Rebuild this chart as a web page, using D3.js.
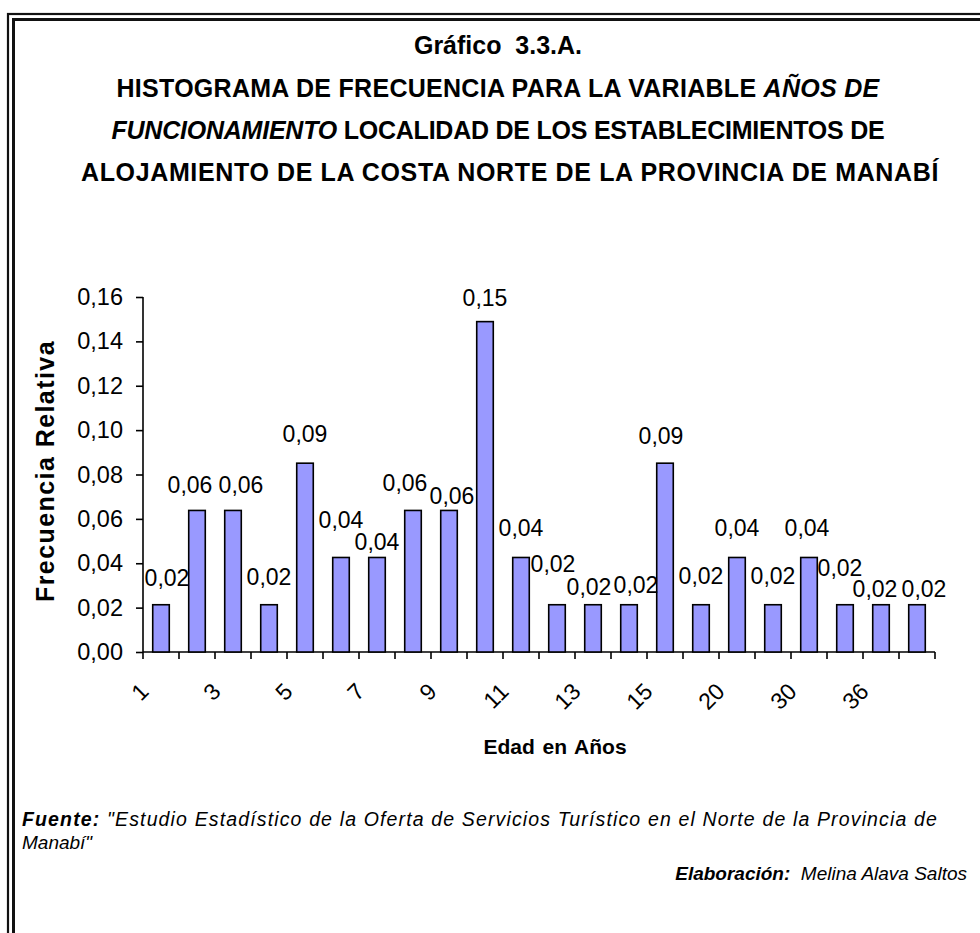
<!DOCTYPE html>
<html>
<head>
<meta charset="utf-8">
<script src="https://cdn.jsdelivr.net/npm/d3@7"></script>
<style>
  body { margin: 0; background: #fff; }
  svg { display: block; font-family: "Liberation Sans", Arial, sans-serif; }
</style>
</head>
<body>
<svg id="chart" width="980" height="933"></svg>
<script>
// categories (age in years) - only every other one is labelled on the axis
var ages = ['1','2','3','4','5','6','7','8','9','10','11','12','13','14','15','18','20','25','30','35','36','40'];
// relative frequency for each age
var freq = [0.0213, 0.0638, 0.0638, 0.0213, 0.0851, 0.0426, 0.0426, 0.0638, 0.0638, 0.1489, 0.0426,
            0.0213, 0.0213, 0.0213, 0.0851, 0.0213, 0.0426, 0.0213, 0.0426, 0.0213, 0.0213, 0.0213];
var yTicks = [0, 0.02, 0.04, 0.06, 0.08, 0.10, 0.12, 0.14, 0.16];

// excel shoved some value labels around to avoid overlaps (pixel nudges, [dx, dy])
var labelNudge = [[6,0],[-7,2],[8,2],[0,-1],[0,-2],[0,-10],[0,12],[-8,0],[3,13],[0,3],[0,-2],
                  [-4,-14],[-4,9],[7,7],[-4,0],[0,-2],[0,-2],[0,-2],[-2,-2],[-5,-10],[-6,11],[7,11]];

var svg = d3.select('#chart');
var comma = function(v) { return d3.format('.2f')(v).replace('.', ','); };

// spread the letters a bit so a line fills the same width as in the original
var fitWidth = function(sel, target) {
  var node = sel.node();
  var natural = node.getComputedTextLength();
  var n = node.textContent.length;
  sel.attr('letter-spacing', (target - natural) / n);
};

// double frame, open on the right and bottom (cut off in the original)
svg.append('rect').attr('x', 8).attr('y', 14).attr('width', 1000).attr('height', 1000)
  .attr('fill', 'none').attr('stroke', '#111').attr('stroke-width', 2.2);
svg.append('rect').attr('x', 13.5).attr('y', 19.5).attr('width', 1000).attr('height', 1000)
  .attr('fill', 'none').attr('stroke', '#111').attr('stroke-width', 3);

// titles
var tx = 498;
svg.append('text').attr('x', tx).attr('y', 54).attr('text-anchor', 'middle')
  .attr('font-size', 25).attr('font-weight', 'bold').attr('xml:space', 'preserve').text('Gráfico  3.3.A.');

var t2 = svg.append('text').attr('x', tx).attr('y', 97).attr('text-anchor', 'middle')
  .attr('font-size', 25).attr('font-weight', 'bold');
t2.append('tspan').text('HISTOGRAMA DE FRECUENCIA PARA LA VARIABLE ');
t2.append('tspan').attr('font-style', 'italic').text('AÑOS DE');
fitWidth(t2, 763);

var t3 = svg.append('text').attr('x', tx).attr('y', 139).attr('text-anchor', 'middle')
  .attr('font-size', 25).attr('font-weight', 'bold');
t3.append('tspan').attr('font-style', 'italic').text('FUNCIONAMIENTO');
t3.append('tspan').text(' LOCALIDAD DE LOS ESTABLECIMIENTOS DE');
fitWidth(t3, 773);

var t4 = svg.append('text').attr('x', tx + 12).attr('y', 181).attr('text-anchor', 'middle')
  .attr('font-size', 25).attr('font-weight', 'bold')
  .text('ALOJAMIENTO DE LA COSTA NORTE DE LA PROVINCIA DE MANABÍ');
fitWidth(t4, 858);

// scales
var x = d3.scaleBand().domain(ages).range([143, 935]).padding(0);
var y = d3.scaleLinear().domain([0, 0.16]).range([652, 297]);
var bw = x.bandwidth() * 0.46;

// y axis
var yAxis = svg.append('g').attr('transform', 'translate(143,0)')
  .call(d3.axisLeft(y).tickValues(yTicks).tickFormat(comma).tickSize(7).tickPadding(13));
yAxis.selectAll('text').attr('font-size', 23.5).attr('fill', '#000').attr('font-family', null);
yAxis.selectAll('line, path').attr('stroke', '#000').attr('stroke-width', 1.6);
yAxis.select('.domain').attr('d', 'M0,' + y(0.16) + 'V' + y(0));

// x axis: ticks on band edges
var xAxis = svg.append('g').attr('transform', 'translate(0,652)');
xAxis.append('line').attr('x1', 143).attr('x2', 935).attr('stroke', '#000').attr('stroke-width', 1.6);
xAxis.selectAll('.tk').data(ages.concat(['end'])).enter().append('line')
  .attr('x1', function(d, i) { return i < ages.length ? x(d) : x.range()[1]; })
  .attr('x2', function(d, i) { return i < ages.length ? x(d) : x.range()[1]; })
  .attr('y1', 0).attr('y2', 7).attr('stroke', '#000').attr('stroke-width', 1.6);

xAxis.selectAll('.lbl').data(ages).enter().append('text')
  .filter(function(d, i) { return i % 2 === 0; })
  .attr('text-anchor', 'end').attr('font-size', 23)
  .attr('transform', function(d) {
    var cx = x(d) + x.bandwidth() / 2 - 11;
    return 'translate(' + cx + ',41) rotate(-45)';
  })
  .text(function(d) { return d; });

// bars
svg.selectAll('.bar').data(freq).enter().append('rect')
  .attr('x', function(d, i) { return x(ages[i]) + (x.bandwidth() - bw) / 2; })
  .attr('y', function(d) { return y(d); })
  .attr('width', bw)
  .attr('height', function(d) { return y(0) - y(d); })
  .attr('fill', '#9999FF').attr('stroke', '#000').attr('stroke-width', 1.6);

// value labels
svg.selectAll('.val').data(freq).enter().append('text')
  .attr('text-anchor', 'middle').attr('font-size', 23)
  .attr('x', function(d, i) { return x(ages[i]) + x.bandwidth() / 2 + labelNudge[i][0]; })
  .attr('y', function(d, i) { return y(d) - 19 + labelNudge[i][1]; })
  .text(function(d) { return comma(d); });

// axis titles
svg.append('text').attr('x', 555).attr('y', 754).attr('text-anchor', 'middle')
  .attr('font-size', 21).attr('font-weight', 'bold').attr('word-spacing', 2).text('Edad en Años');
var yt = svg.append('text').attr('transform', 'translate(54,471) rotate(-90)').attr('text-anchor', 'middle')
  .attr('font-size', 25).attr('font-weight', 'bold').text('Frecuencia Relativa');
fitWidth(yt, 262);

// footer
var f1 = svg.append('text').attr('x', 22).attr('y', 826).attr('font-size', 19.5).attr('font-style', 'italic');
f1.append('tspan').attr('font-weight', 'bold').text('Fuente:');
f1.append('tspan').text(' "Estudio Estadístico de la Oferta de Servicios Turístico en el Norte de la Provincia de');
fitWidth(f1, 916);
svg.append('text').attr('x', 22).attr('y', 849).attr('font-size', 19).attr('font-style', 'italic').text('Manabí"');
var f2 = svg.append('text').attr('x', 967).attr('y', 880).attr('text-anchor', 'end')
  .attr('font-size', 19).attr('font-style', 'italic').attr('xml:space', 'preserve');
f2.append('tspan').attr('font-weight', 'bold').text('Elaboración:');
f2.append('tspan').text('  Melina Alava Saltos');
</script>
</body>
</html>
